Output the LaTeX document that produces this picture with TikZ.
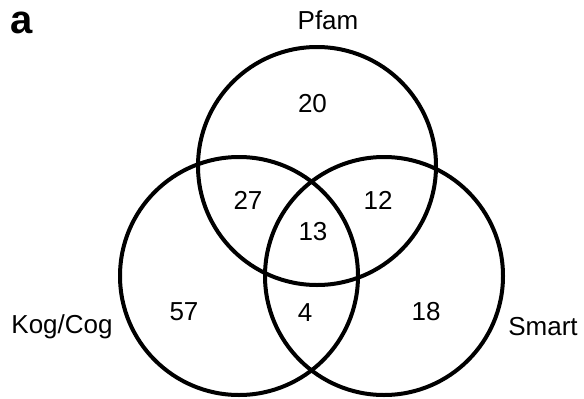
\documentclass[tikz,border=0pt]{standalone}
\usepackage{fontspec}
\setmainfont{Liberation Sans}
\usetikzlibrary{positioning}

\begin{document}
\begin{tikzpicture}[x=1pt,y=-1pt,
    set/.style={circle,draw=black,line width=4pt,minimum size=238pt,inner sep=0pt},
    lbl/.style={anchor=base,inner sep=0pt,font=\fontsize{26}{30}\selectfont},
    num/.style={inner sep=0pt,font=\fontsize{26}{30}\selectfont}]

  \useasboundingbox (0,0) rectangle (584,399);

  % the three sets
  \node (pfam)  [set] at (317,166) {};
  \node (kog)   [set] at (239,276) {};
  \node (smart) [set] at (384,276) {};

  % panel letter and set names
  \node (panel) [lbl,font=\fontsize{40}{44}\bfseries] at (22,33) {a};
  \node (pfamname)  [lbl] at (328,29.5) {Pfam};
  \node (kogname)   [lbl] at (62,333) {Kog/Cog};
  \node (smartname) [lbl] at (543,335) {Smart};

  % counts per region
  \node (onlypfam)  [num] at (312.5,104) {20};
  \node (pfamkog)   [num] at (248,200) {27};
  \node (pfamsmart) [num] at (378,200) {12};
  \node (allthree)  [num] at (313,232) {13};
  \node (onlykog)   [num] at (184,312) {57};
  \node (kogsmart)  [num] at (305,313) {4};
  \node (onlysmart) [num] at (426,312) {18};

\end{tikzpicture}
\end{document}
